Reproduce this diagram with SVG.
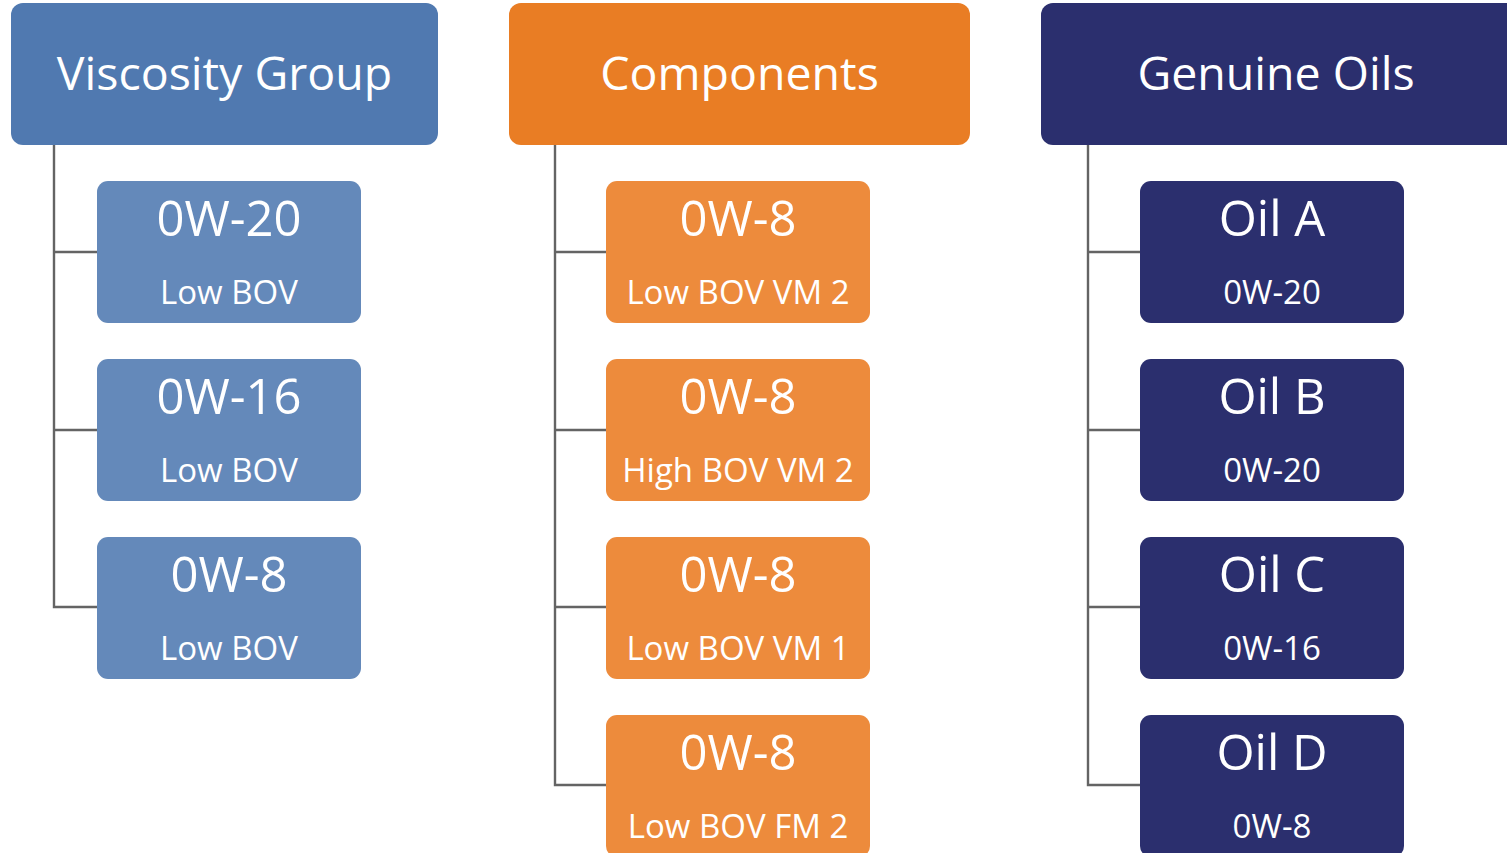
<svg xmlns="http://www.w3.org/2000/svg" width="1507" height="853" viewBox="0 0 1507 853">
<style>
.hd{font-family:"Open Sans","Noto Sans",sans-serif;font-size:46.5px;fill:#fff;text-anchor:middle}
.t1{font-family:"Open Sans","Noto Sans",sans-serif;font-size:49px;fill:#fff;text-anchor:middle}
.t2{font-family:"Open Sans","Noto Sans",sans-serif;font-size:33px;fill:#fff;text-anchor:middle}
.c{stroke:#646464;stroke-width:2.4;fill:none}
.b1{fill:#5079b0}.s1{fill:#6489ba}
.b2{fill:#e97d24}.s2{fill:#ed8b3c}
.b3{fill:#2b2f6e}
</style>
<rect width="1507" height="853" fill="#fff"/>
<g id="connectors">
<path class="c" d="M54 145V607H97M54 252H97M54 430H97"/>
<path class="c" d="M555 145V785H606M555 252H606M555 430H606M555 607H606"/>
<path class="c" d="M1088 145V785H1140M1088 252H1140M1088 430H1140M1088 607H1140"/>
</g>
<g id="viscosity-group"><rect class="b1" x="11" y="3" width="427" height="142" rx="12"/><text class="hd" x="224.5" y="90">Viscosity Group</text></g>
<g id="components"><rect class="b2" x="509" y="3" width="461" height="142" rx="12"/><text class="hd" x="739.5" y="90">Components</text></g>
<g id="genuine-oils"><rect class="b3" x="1041" y="3" width="480" height="142" rx="12"/><text class="hd" x="1276" y="90">Genuine Oils</text></g>

<g id="v1"><rect class="s1" x="97" y="181" width="264" height="142" rx="11"/><text class="t1" x="229" y="236">0W-20</text><text class="t2" x="229" y="304">Low BOV</text></g>
<g id="v2"><rect class="s1" x="97" y="359" width="264" height="142" rx="11"/><text class="t1" x="229" y="414">0W-16</text><text class="t2" x="229" y="482">Low BOV</text></g>
<g id="v3"><rect class="s1" x="97" y="537" width="264" height="142" rx="11"/><text class="t1" x="229" y="592">0W-8</text><text class="t2" x="229" y="660">Low BOV</text></g>

<g id="c1"><rect class="s2" x="606" y="181" width="264" height="142" rx="11"/><text class="t1" x="738" y="236">0W-8</text><text class="t2" x="738" y="304">Low BOV VM 2</text></g>
<g id="c2"><rect class="s2" x="606" y="359" width="264" height="142" rx="11"/><text class="t1" x="738" y="414">0W-8</text><text class="t2" x="738" y="482">High BOV VM 2</text></g>
<g id="c3"><rect class="s2" x="606" y="537" width="264" height="142" rx="11"/><text class="t1" x="738" y="592">0W-8</text><text class="t2" x="738" y="660">Low BOV VM 1</text></g>
<g id="c4"><rect class="s2" x="606" y="715" width="264" height="142" rx="11"/><text class="t1" x="738" y="770">0W-8</text><text class="t2" x="738" y="838">Low BOV FM 2</text></g>

<g id="oa"><rect class="b3" x="1140" y="181" width="264" height="142" rx="11"/><text class="t1" x="1272" y="236">Oil A</text><text class="t2" x="1272" y="304">0W-20</text></g>
<g id="ob"><rect class="b3" x="1140" y="359" width="264" height="142" rx="11"/><text class="t1" x="1272" y="414">Oil B</text><text class="t2" x="1272" y="482">0W-20</text></g>
<g id="oc"><rect class="b3" x="1140" y="537" width="264" height="142" rx="11"/><text class="t1" x="1272" y="592">Oil C</text><text class="t2" x="1272" y="660">0W-16</text></g>
<g id="od"><rect class="b3" x="1140" y="715" width="264" height="142" rx="11"/><text class="t1" x="1272" y="770">Oil D</text><text class="t2" x="1272" y="838">0W-8</text></g>
</svg>
